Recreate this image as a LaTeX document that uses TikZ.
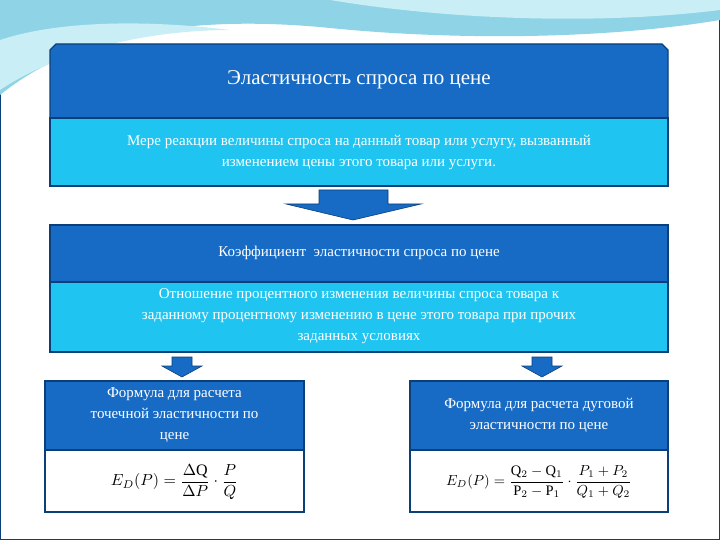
\documentclass[tikz,border=0pt]{standalone}
\usepackage{fontspec}
\setmainfont{Liberation Serif}
\usepackage{amsmath}
\definecolor{dblue}{HTML}{176BC4}
\definecolor{lblue}{HTML}{20C4F0}
\definecolor{edge}{HTML}{0B3F7A}
\definecolor{sky}{HTML}{8FD3E6}
\definecolor{sky2}{HTML}{C9EEF5}
\begin{document}
\begin{tikzpicture}[x=1pt,y=-1pt,
  dark/.style={fill=dblue,draw=edge,line width=1.2pt},
  light/.style={fill=lblue,draw=edge,line width=1.2pt},
  white/.style={fill=white,draw=edge,line width=1.2pt},
  txt/.style={text=white,align=center,font=\fontsize{15}{21}\selectfont},
  bigarrow/.style={fill=dblue,draw=edge,line width=0.6pt}]
\useasboundingbox (0,0) rectangle (720,540);
\fill[white] (0,0) rectangle (720,540);
% background swoosh
\fill[sky] (0,0) -- (720,0) -- (720,20) .. controls (600,40) and (450,40) .. (330,28) .. controls (200,15) and (80,30) .. (0,95) -- cycle;
\fill[sky2] (330,0) -- (720,0) -- (720,10) .. controls (600,25) and (450,20) .. (330,0) -- cycle;
\fill[sky2] (0,40) .. controls (60,20) and (150,20) .. (230,30) .. controls (150,30) and (60,50) .. (0,90) -- cycle;
% top box
\path[dark] (50,118) -- (50,50) -- (56,44) -- (662,44) -- (668,50) -- (668,118) -- cycle;
\node[txt,font=\fontsize{21}{25}\selectfont] (t1) at (359,80) {Эластичность спроса по цене};
\path[light] (50,118) rectangle (668,186);
\node[txt] (d1) at (359,152) {Мере реакции величины спроса на данный товар или услугу, вызванный\\изменением цены этого товара или услуги.};
% big arrow
\path[bigarrow] (319,190) -- (388,190) -- (388,204) -- (421,204) -- (353,220) -- (286,204) -- (319,204) -- cycle;
% second box
\path[dark] (50,225) rectangle (668,282);
\node[txt] (t2) at (359,253) {Коэффициент\ \ эластичности спроса по цене};
\path[light] (50,282) rectangle (668,352);
\node[txt] (d2) at (359,316) {Отношение процентного изменения величины спроса товара к\\заданному процентному изменению в цене этого товара при прочих\\заданных условиях};
% small arrows
\path[bigarrow] (172,357) -- (192,357) -- (192,366) -- (202,366) -- (182,377) -- (162,366) -- (172,366) -- cycle;
\path[bigarrow] (532,357) -- (552,357) -- (552,366) -- (562,366) -- (542,377) -- (522,366) -- (532,366) -- cycle;
% left box
\path[dark] (45,381) rectangle (304,450);
\node[txt] (l1) at (174.5,415) {Формула для расчета\\точечной эластичности по\\цене};
\path[white] (45,450) rectangle (304,512);
\node[scale=1.6] (l2) at (174.5,482) {$E_D(P)=\dfrac{\Delta \mathrm{Q}}{\Delta P}\cdot\dfrac{P}{Q}$};
% right box
\path[dark] (410,381) rectangle (668,450);
\node[txt] (r1) at (539,415) {Формула для расчета дуговой\\эластичности по цене};
\path[white] (410,450) rectangle (668,512);
\node[scale=1.45] (r2) at (539,482) {$E_D(P)=\dfrac{\mathrm{Q}_2-\mathrm{Q}_1}{\mathrm{P}_2-\mathrm{P}_1}\cdot\dfrac{P_1+P_2}{Q_1+Q_2}$};
\end{tikzpicture}
\end{document}
